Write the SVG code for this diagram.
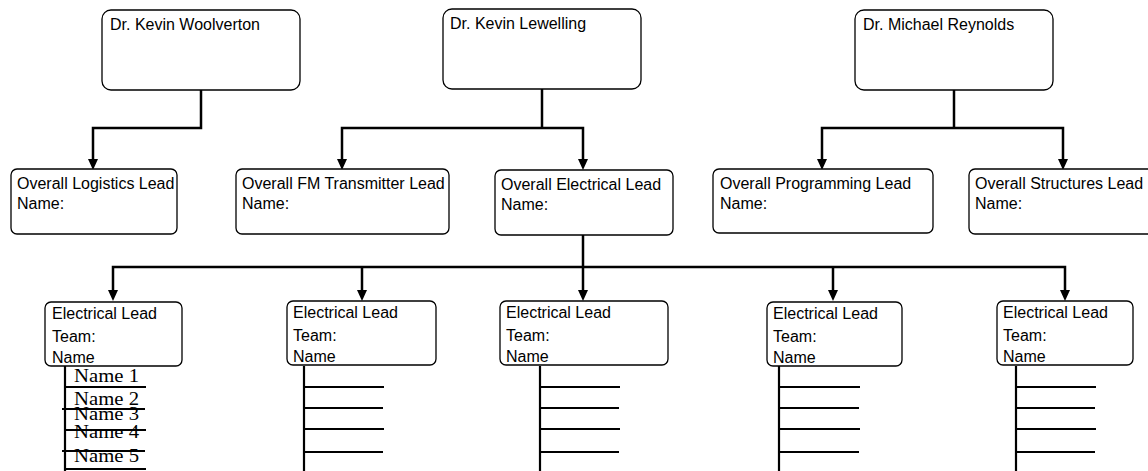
<svg xmlns="http://www.w3.org/2000/svg" width="1148" height="471" viewBox="0 0 1148 471">
<style>
.box{fill:#fff;stroke:#000;stroke-width:1.3}
.t{font-family:"Liberation Sans",Arial,sans-serif;font-size:16px;fill:#000}
.n{font-family:"Liberation Serif","Times New Roman",serif;font-size:18px;fill:#000}
.c{fill:none;stroke:#000;stroke-width:2.5}
.tk{fill:none;stroke:#000;stroke-width:2.2}
</style>
<defs>
<path id="ah" d="M-5,0 L5,0 L0,11 Z" fill="#000"/>
</defs>
<rect width="1148" height="471" fill="#fff"/>
<g id="connectors">
<path class="c" d="M201,90 V128 H93 V162"/>
<use href="#ah" x="93" y="159"/>
<path class="c" d="M542,89 V128"/>
<path class="c" d="M342,162 V128 H583 V162"/>
<use href="#ah" x="342" y="159"/>
<use href="#ah" x="583" y="159"/>
<path class="c" d="M954,90 V128"/>
<path class="c" d="M822,162 V128 H1063 V162"/>
<use href="#ah" x="822" y="159"/>
<use href="#ah" x="1063" y="159"/>
<path class="c" d="M583,235 V293"/>
<path class="c" d="M113,293 V267 H1065 V293"/>
<path class="c" d="M362,267 V293"/>
<path class="c" d="M833,267 V293"/>
<use href="#ah" x="113" y="290"/>
<use href="#ah" x="362" y="290"/>
<use href="#ah" x="583" y="290"/>
<use href="#ah" x="833" y="290"/>
<use href="#ah" x="1065" y="290"/>
</g>
<g id="n-woolverton"><rect class="box" x="102" y="10" width="198" height="80" rx="9"/><text class="t" x="110" y="30">Dr. Kevin Woolverton</text></g>
<g id="n-lewelling"><rect class="box" x="443" y="9" width="198" height="80" rx="9"/><text class="t" x="450" y="29">Dr. Kevin Lewelling</text></g>
<g id="n-reynolds"><rect class="box" x="855" y="10" width="198" height="80" rx="9"/><text class="t" x="863" y="30">Dr. Michael Reynolds</text></g>
<g id="n-logistics"><rect class="box" x="11" y="169" width="166" height="65" rx="6"/><text class="t" x="17" y="189">Overall Logistics Lead</text><text class="t" x="17" y="209">Name:</text></g>
<g id="n-fm"><rect class="box" x="236" y="169" width="213" height="65" rx="6"/><text class="t" x="242" y="189">Overall FM Transmitter Lead</text><text class="t" x="242" y="209">Name:</text></g>
<g id="n-electrical"><rect class="box" x="495" y="170" width="178" height="65" rx="6"/><text class="t" x="501" y="190">Overall Electrical Lead</text><text class="t" x="501" y="210">Name:</text></g>
<g id="n-programming"><rect class="box" x="713" y="169" width="220" height="64" rx="6"/><text class="t" x="720" y="189">Overall Programming Lead</text><text class="t" x="720" y="209">Name:</text></g>
<g id="n-structures"><rect class="box" x="969" y="169" width="190" height="65" rx="6"/><text class="t" x="975" y="189">Overall Structures Lead</text><text class="t" x="975" y="209">Name:</text></g>
<g id="n-el1"><rect class="box" x="45" y="302" width="137" height="64" rx="6"/><text class="t" x="52" y="319">Electrical Lead</text><text class="t" x="52" y="342">Team:</text><text class="t" x="52" y="363">Name</text></g>
<g id="n-el2"><rect class="box" x="287" y="301" width="149" height="64" rx="6"/><text class="t" x="293" y="318">Electrical Lead</text><text class="t" x="293" y="341">Team:</text><text class="t" x="293" y="362">Name</text></g>
<g id="n-el3"><rect class="box" x="500" y="301" width="168" height="64" rx="6"/><text class="t" x="506" y="318">Electrical Lead</text><text class="t" x="506" y="341">Team:</text><text class="t" x="506" y="362">Name</text></g>
<g id="n-el4"><rect class="box" x="767" y="302" width="135" height="64" rx="6"/><text class="t" x="773" y="319">Electrical Lead</text><text class="t" x="773" y="342">Team:</text><text class="t" x="773" y="363">Name</text></g>
<g id="n-el5"><rect class="box" x="997" y="301" width="136" height="64" rx="6"/><text class="t" x="1003" y="318">Electrical Lead</text><text class="t" x="1003" y="341">Team:</text><text class="t" x="1003" y="362">Name</text></g>
<g id="names1">
<text class="n" x="74" y="382" textLength="65" lengthAdjust="spacingAndGlyphs">Name 1</text>
<text class="n" x="74" y="405" textLength="65" lengthAdjust="spacingAndGlyphs">Name 2</text>
<text class="n" x="74" y="420" textLength="65" lengthAdjust="spacingAndGlyphs">Name 3</text>
<text class="n" x="74" y="438" textLength="65" lengthAdjust="spacingAndGlyphs">Name 4</text>
<text class="n" x="74" y="462" textLength="65" lengthAdjust="spacingAndGlyphs">Name 5</text>
<path class="tk" d="M65,366 V471 M65,387 H146 M62,409 H145 M64,430 H146 M62,451 H145 M65,469 H146"/>
</g>
<g id="lists">
<path class="tk" d="M304,366 V471 M304,387 H384 M303,408 H383 M304,429 H384 M303,452 H383"/>
<path class="tk" d="M540,366 V471 M540,387 H620 M539,408 H619 M540,429 H620 M539,452 H619"/>
<path class="tk" d="M779,366 V471 M779,387 H860 M778,408 H859 M779,429 H860 M778,452 H859"/>
<path class="tk" d="M1016,366 V471 M1016,387 H1096 M1015,408 H1095 M1016,429 H1096 M1015,452 H1095"/>
</g>
</svg>
